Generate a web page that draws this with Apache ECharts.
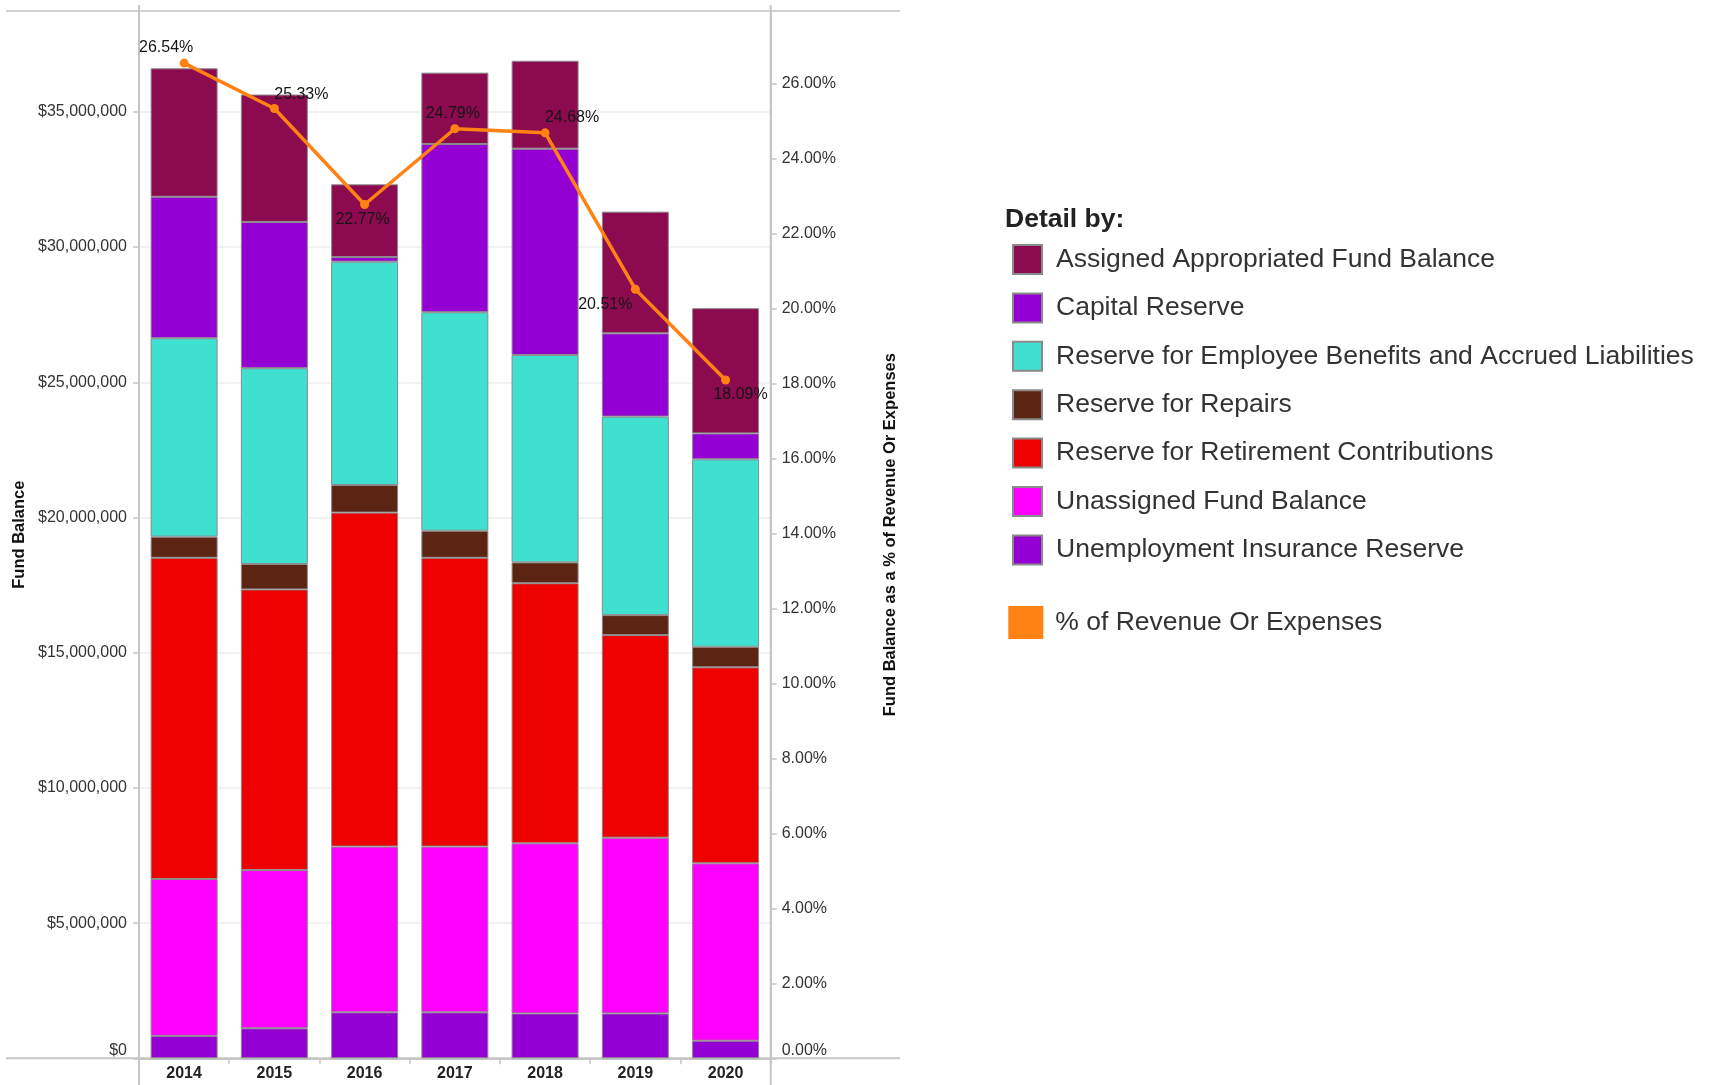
<!DOCTYPE html>
<html>
<head>
<meta charset="utf-8">
<title>Fund Balance</title>
<script src="https://cdn.jsdelivr.net/npm/echarts@6/dist/echarts.min.js"></script>
<style>
  html, body { margin: 0; padding: 0; background: #ffffff; }
  #chart { width: 1711px; height: 1085px; }
</style>
</head>
<body>
<div id="chart"></div>
<script>
// Fiscal years on the category axis
const categories = ['2014', '2015', '2016', '2017', '2018', '2019', '2020'];

// Fund balance components (USD), listed bottom of the stack first
const unemploymentInsuranceReserve = [830000, 1110000, 1700000, 1700000, 1660000, 1660000, 650000];
const unassignedFundBalance = [5800000, 5850000, 6130000, 6130000, 6290000, 6500000, 6560000];
const retirementContributions = [11880000, 10380000, 12350000, 10680000, 9620000, 7490000, 7250000];
const repairsReserve = [780000, 940000, 1020000, 1000000, 770000, 740000, 760000];
const employeeBenefitsReserve = [7340000, 7240000, 8260000, 8080000, 7670000, 7340000, 6930000];
const capitalReserve = [5230000, 5410000, 170000, 6220000, 7630000, 3080000, 960000];
const assignedAppropriated = [4750000, 4710000, 2690000, 2640000, 3250000, 4500000, 4630000];

// Fund balance as a % of revenue or expenses
const pctOfRevenue = [26.54, 25.33, 22.77, 24.79, 24.68, 20.51, 18.09];

// Names shown in the legend, top to bottom
const legendNames = [
  'Assigned Appropriated Fund Balance',
  'Capital Reserve',
  'Reserve for Employee Benefits and Accrued Liabilities',
  'Reserve for Repairs',
  'Reserve for Retirement Contributions',
  'Unassigned Fund Balance',
  'Unemployment Insurance Reserve'
];
const lineName = '% of Revenue Or Expenses';

const FONT = '"Liberation Sans", Arial, Helvetica, sans-serif';
const AXIS_GREY = '#c6c6c6';
const LINE_ORANGE = '#ff8212';

// Stack layers, bottom to top
const stackLayers = [
  { name: 'Unemployment Insurance Reserve', values: unemploymentInsuranceReserve, color: '#9400d3' },
  { name: 'Unassigned Fund Balance', values: unassignedFundBalance, color: '#ff00ff' },
  { name: 'Reserve for Retirement Contributions', values: retirementContributions, color: '#ee0000' },
  { name: 'Reserve for Repairs', values: repairsReserve, color: '#5c2412' },
  { name: 'Reserve for Employee Benefits and Accrued Liabilities', values: employeeBenefitsReserve, color: '#40e0d0' },
  { name: 'Capital Reserve', values: capitalReserve, color: '#9400d3' },
  { name: 'Assigned Appropriated Fund Balance', values: assignedAppropriated, color: '#8b0a50' }
];

const barSeries = stackLayers.map(layer => ({
  name: layer.name,
  type: 'bar',
  stack: 'fund',
  yAxisIndex: 0,
  barWidth: 67,
  data: layer.values,
  itemStyle: { color: layer.color, borderColor: '#8a8a8a', borderWidth: 1 },
  emphasis: { disabled: true },
  z: 2
}));

// Where each percentage label sits relative to its point
const pctLabelShift = [[-18, -16], [27, -14], [-2, 15], [-2, -15], [27, -15], [-30, 15], [15, 15]];

const lineSeries = {
  name: lineName,
  type: 'line',
  yAxisIndex: 1,
  data: pctOfRevenue.map((v, i) => ({
    value: v,
    label: { offset: pctLabelShift[i] }
  })),
  symbol: 'circle',
  symbolSize: 9,
  lineStyle: { color: LINE_ORANGE, width: 3.5 },
  itemStyle: { color: LINE_ORANGE, borderWidth: 0 },
  label: {
    show: true,
    position: 'inside',
    formatter: p => p.value.toFixed(2) + '%',
    fontFamily: FONT,
    fontSize: 16,
    color: '#161616'
  },
  emphasis: { disabled: true },
  z: 5
};

const gridLeft = 139, gridTop = 11, gridRight = 770.7, gridBottom = 1058.3;

const chart = echarts.init(document.getElementById('chart'), null, { renderer: 'canvas' });

chart.setOption({
  animation: false,
  backgroundColor: '#ffffff',
  textStyle: { fontFamily: FONT },
  grid: {
    left: gridLeft,
    top: gridTop,
    width: gridRight - gridLeft,
    height: gridBottom - gridTop,
    containLabel: false
  },
  xAxis: {
    type: 'category',
    data: categories,
    axisLine: { lineStyle: { color: AXIS_GREY, width: 2 } },
    axisTick: { show: true, length: 6, lineStyle: { color: AXIS_GREY, width: 1.5 } },
    axisLabel: { fontFamily: FONT, fontSize: 16, fontWeight: 'bold', color: '#222', margin: 7 },
    splitLine: { show: false }
  },
  yAxis: [
    {
      type: 'value',
      min: 0,
      max: 38730000,
      interval: 5000000,
      name: 'Fund Balance',
      nameLocation: 'middle',
      nameRotate: 90,
      nameGap: 111,
      nameTextStyle: { fontFamily: FONT, fontSize: 16.5, fontWeight: 'bold', color: '#111' },
      axisLine: { show: true, lineStyle: { color: AXIS_GREY, width: 2 } },
      axisTick: { show: true, length: 6, lineStyle: { color: AXIS_GREY, width: 1.5 } },
      axisLabel: {
        showMaxLabel: false,
        fontFamily: FONT,
        fontSize: 16,
        color: '#333',
        margin: 12,
        formatter: v => v === 0 ? '{z|$0}' : '$' + v.toLocaleString('en-US'),
        rich: { z: { fontFamily: FONT, fontSize: 16, color: '#333', padding: [0, 0, 16, 0] } }
      },
      splitLine: { show: true, lineStyle: { color: '#ececec', width: 1.5 } }
    },
    {
      type: 'value',
      min: 0,
      max: 27.93,
      interval: 2,
      position: 'right',
      name: 'Fund Balance as a % of Revenue Or Expenses',
      nameLocation: 'middle',
      nameRotate: 90,
      nameGap: 111,
      nameTextStyle: { fontFamily: FONT, fontSize: 16.5, fontWeight: 'bold', color: '#111' },
      axisLine: { show: true, lineStyle: { color: AXIS_GREY, width: 2 } },
      axisTick: { show: true, length: 6, lineStyle: { color: AXIS_GREY, width: 1.5 } },
      axisLabel: {
        showMaxLabel: false,
        fontFamily: FONT,
        fontSize: 16,
        color: '#333',
        margin: 11,
        formatter: v => v === 0 ? '{z|0.00%}' : v.toFixed(2) + '%',
        rich: { z: { fontFamily: FONT, fontSize: 16, color: '#333', padding: [0, 0, 16, 0] } }
      },
      splitLine: { show: false }
    }
  ],
  legend: [
    {
      orient: 'vertical',
      left: 1012,
      top: 244,
      padding: 0,
      icon: 'rect',
      itemWidth: 29,
      itemHeight: 29,
      itemGap: 17.4,
      selectedMode: false,
      data: legendNames,
      textStyle: { fontFamily: FONT, fontSize: 26.5, color: '#333', padding: [0, 0, 0, 9] }
    },
    {
      orient: 'vertical',
      left: 1008.3,
      top: 606,
      padding: 0,
      icon: 'rect',
      itemWidth: 35,
      itemHeight: 33,
      selectedMode: false,
      data: [lineName],
      itemStyle: { color: LINE_ORANGE, borderWidth: 0 },
      textStyle: { fontFamily: FONT, fontSize: 26.5, color: '#333', padding: [0, 0, 0, 7] }
    }
  ],
  graphic: [
    { type: 'text', left: 1005, top: 206, silent: true,
      style: { text: 'Detail by:', fontFamily: FONT, fontSize: 26.5, fontWeight: 'bold', fill: '#222' } },
    // frame lines that run past the plot area
    { type: 'line', silent: true, z: 1, shape: { x1: 6, y1: gridTop, x2: 900, y2: gridTop },
      style: { stroke: '#d2d2d2', lineWidth: 2 } },
    { type: 'line', silent: true, z: 1, shape: { x1: 6, y1: gridBottom, x2: 900, y2: gridBottom },
      style: { stroke: AXIS_GREY, lineWidth: 2 } },
    { type: 'line', silent: true, z: 1, shape: { x1: gridLeft, y1: 5, x2: gridLeft, y2: 1085 },
      style: { stroke: AXIS_GREY, lineWidth: 2 } },
    { type: 'line', silent: true, z: 1, shape: { x1: gridRight, y1: 5, x2: gridRight, y2: 1085 },
      style: { stroke: AXIS_GREY, lineWidth: 2 } }
  ],
  series: [...barSeries, lineSeries]
});
</script>
</body>
</html>
